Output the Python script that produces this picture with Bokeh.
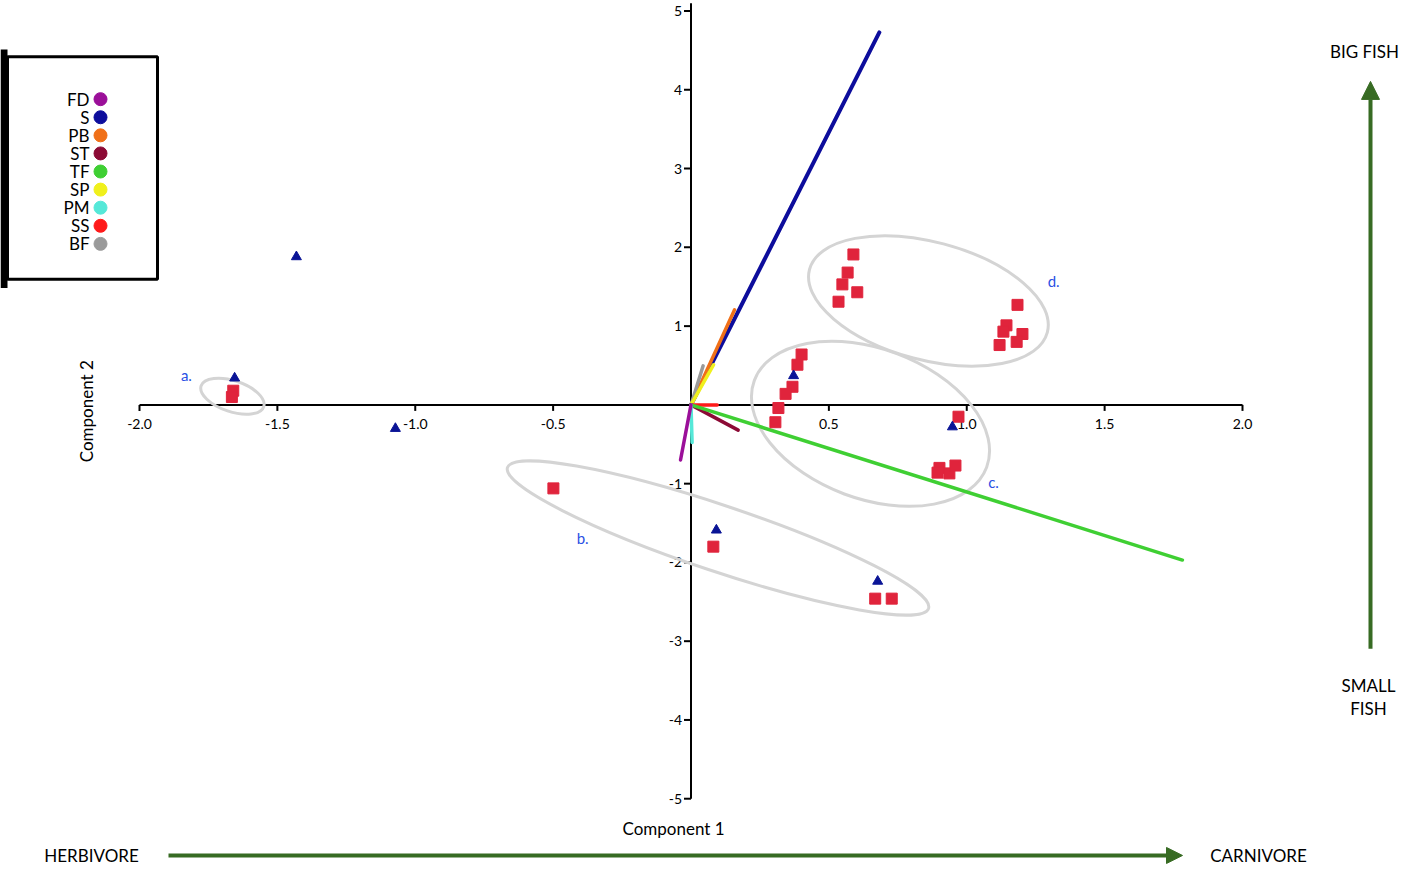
import math
from bokeh.plotting import figure
from bokeh.models import Arrow, NormalHead
from bokeh.core.properties import value
from bokeh.embed import file_html
from bokeh.resources import INLINE

# ---------------- data ----------------
vec_names = ["S", "PB", "BF", "SP", "SS", "ST", "TF", "PM", "FD"]
vec_x = [0.683, 0.158, 0.044, 0.082, 0.095, 0.171, 1.782, 0.004, -0.038]
vec_y = [4.729, 1.207, 0.496, 0.510, 0.000, -0.320, -1.970, -0.477, -0.700]

legend_names = ["FD", "S", "PB", "ST", "TF", "SP", "PM", "SS", "BF"]
legend_colors = ["#9b0f99", "#0d0d9c", "#f07018", "#8c0a35", "#3fcf33",
                 "#f0f01c", "#55e8d8", "#ff1a1a", "#9a9a9a"]
color_of = dict(zip(legend_names, legend_colors))

sq_x = [-1.660, -1.665,
        -0.499, 0.081, 0.668, 0.728,
        0.401, 0.386, 0.368, 0.343, 0.317, 0.306, 0.970, 0.901, 0.894, 0.937, 0.959,
        0.589, 0.568, 0.549, 0.603, 0.535, 1.184, 1.144, 1.133, 1.202, 1.181, 1.119]
sq_y = [0.18, 0.10,
        -1.06, -1.80, -2.46, -2.46,
        0.64, 0.51, 0.23, 0.14, -0.04, -0.22, -0.15, -0.80, -0.86, -0.87, -0.77,
        1.91, 1.68, 1.53, 1.43, 1.31, 1.27, 1.01, 0.93, 0.90, 0.80, 0.76]

tri_x = [-1.655, -1.431, -1.072, 0.092, 0.677, 0.372, 0.948]
tri_y = [0.34, 1.88, -0.30, -1.59, -2.24, 0.37, -0.28]

group_labels = ["a.", "b.", "c.", "d."]
ell_cx = [-1.663, 0.098, 0.651, 0.861]
ell_cy = [0.11, -1.69, -0.24, 1.32]
ell_w = [66, 444, 248, 246]
ell_h = [31, 66, 150, 118]
ell_ang = [-18.5, -18.5, -20.5, -14.8]
lab_x = [-1.830, -0.393, 1.097, 1.315]
lab_y = [0.376, -1.693, -0.979, 1.570]

x_ticks = [-2.0, -1.5, -1.0, -0.5, 0.5, 1.0, 1.5, 2.0]
x_tick_labels = ["-2.0", "-1.5", "-1.0", "-0.5", "0.5", "1.0", "1.5", "2.0"]
y_ticks = [5, 4, 3, 2, 1, -1, -2, -3, -4, -5]
y_tick_labels = ["5", "4", "3", "2", "1", "-1", "-2", "-3", "-4", "-5"]

# ---------------- layout helpers ----------------
W, H = 1402, 867
VS = 0.97                       # vertical squeeze so that everything fits
XS = 275.75                     # px per x unit
YS = 81.2 * VS                  # px per y unit
X0 = 690.5                      # fig px of x=0
Y0 = 13 + (408.5 - 5) * VS      # fig px of y=0

def dx(ix):   # reference px -> data x
    return (ix - X0) / XS

def dy(iy):   # reference px -> data y
    return (408.5 - iy) / 81.2

FONT = value("Lato")
GREEN = "#376b23"

p = figure(width=W, height=H, output_backend="svg", toolbar_location=None,
           x_range=(dx(0), dx(W)), y_range=((Y0 - H) / YS, Y0 / YS),
           x_axis_type=None, y_axis_type=None, min_border=0,
           outline_line_color=None, background_fill_color="white")
p.xgrid.visible = False
p.ygrid.visible = False

# axes
p.segment(x0=[-2.0], y0=[0], x1=[2.0], y1=[0], line_color="black", line_width=2)
p.segment(x0=[0], y0=[-5.0], x1=[0], y1=[5.1], line_color="black", line_width=2)
p.segment(x0=x_ticks, y0=[0] * len(x_ticks), x1=x_ticks, y1=[-6 / YS] * len(x_ticks),
          line_color="black", line_width=2)
p.segment(x0=[0] * len(y_ticks), y0=y_ticks, x1=[-7 / XS] * len(y_ticks), y1=y_ticks,
          line_color="black", line_width=2)
p.text(x=x_ticks, y=[-19 / YS] * len(x_ticks), text=x_tick_labels, text_font=FONT,
       text_font_size=value("14px"), text_align="center", text_baseline="middle",
       text_color="black")
p.text(x=[-9 / XS] * len(y_ticks), y=y_ticks, text=y_tick_labels, text_font=FONT,
       text_font_size=value("14px"), text_align="right", text_baseline="middle",
       text_color="black")

# ellipses
p.ellipse(x=ell_cx, y=ell_cy, width=ell_w, height=ell_h, width_units="screen",
          height_units="screen", angle=[math.radians(a) for a in ell_ang],
          fill_color=None, line_color="#d4d4d4", line_width=3)
p.text(x=lab_x, y=lab_y, text=group_labels, text_font=FONT, text_font_size=value("15px"),
       text_color="#2a50e4", text_align="center", text_baseline="middle")

# vectors
for n, vx, vy in zip(vec_names, vec_x, vec_y):
    p.segment(x0=[0], y0=[0], x1=[vx], y1=[vy], line_color=color_of[n],
              line_width=4 if n == "S" else 3.5, line_cap="round")

# points
p.scatter(x=sq_x, y=sq_y, marker="square", size=11, fill_color="#e0243c",
          line_color="#e0243c")
p.scatter(x=tri_x, y=tri_y, marker="triangle", size=10, fill_color="#0a1496",
          line_color="#0a1496")

# legend box
p.quad(left=[dx(0)], right=[dx(7)], top=[dy(42)], bottom=[dy(288)],
       fill_color="black", line_color=None)
p.quad(left=[dx(7)], right=[dx(157)], top=[dy(49.5)], bottom=[dy(279)],
       fill_color="white", line_color="black", line_width=3)
rows_y = [dy(93.3 + 18.65 * i) for i in range(len(legend_names))]
p.text(x=[dx(89)] * len(legend_names), y=rows_y, text=legend_names, text_font=FONT,
       text_font_size=value("17px"), text_align="right", text_baseline="middle",
       text_color="black")
p.scatter(x=[dx(100)] * len(legend_names), y=rows_y, marker="circle", size=13,
          fill_color=legend_colors, line_color=legend_colors)

# axis titles
p.text(x=[dx(673)], y=[dy(845)], text=["Component 1"], text_font=FONT,
       text_font_size=value("17px"), text_align="center", text_baseline="middle",
       text_color="black")
p.text(x=[dx(86)], y=[dy(415)], text=["Component 2"], text_font=FONT,
       text_font_size=value("17px"), text_align="center", text_baseline="middle",
       angle=math.pi / 2, text_color="black")

# bottom arrow
p.text(x=[dx(91)], y=[dy(873)], text=["HERBIVORE"], text_font=FONT,
       text_font_size=value("17px"), text_align="center", text_baseline="middle",
       text_color="black")
p.text(x=[dx(1258)], y=[dy(873)], text=["CARNIVORE"], text_font=FONT,
       text_font_size=value("17px"), text_align="center", text_baseline="middle",
       text_color="black")
p.add_layout(Arrow(end=NormalHead(size=16, fill_color=GREEN, line_color=GREEN),
                   x_start=dx(168), y_start=dy(873), x_end=dx(1182), y_end=dy(873),
                   line_color=GREEN, line_width=4))

# right arrow (shifted left a little to fit the page)
RX = dx(1370)
p.add_layout(Arrow(end=NormalHead(size=18, fill_color=GREEN, line_color=GREEN),
                   x_start=RX, y_start=dy(660), x_end=RX, y_end=dy(75),
                   line_color=GREEN, line_width=4))
p.text(x=[dx(1364)], y=[dy(44)], text=["BIG FISH"], text_font=FONT,
       text_font_size=value("17px"), text_align="center", text_baseline="middle",
       text_color="black")
p.text(x=[dx(1368)] * 2, y=[dy(698), dy(721)], text=["SMALL", "FISH"], text_font=FONT,
       text_font_size=value("17px"), text_align="center", text_baseline="middle",
       text_color="black")

open("out.html", "w").write(file_html(p, INLINE))
